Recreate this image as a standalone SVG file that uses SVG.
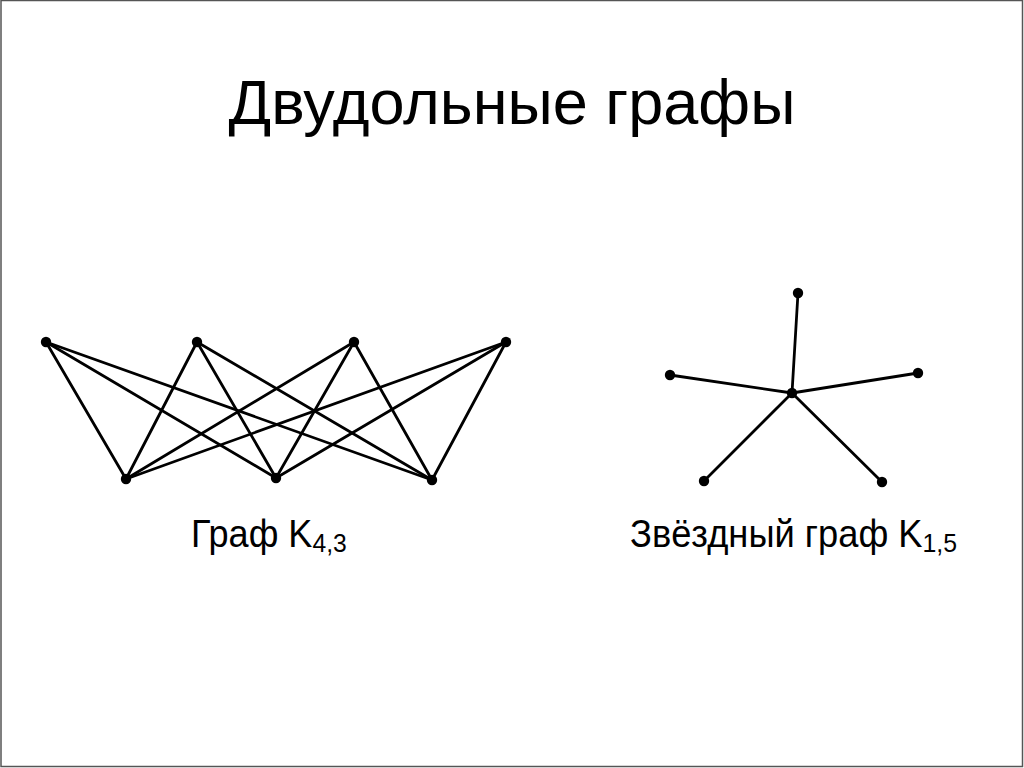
<svg xmlns="http://www.w3.org/2000/svg" width="1024" height="768" viewBox="0 0 1024 768">
<style>
.edge{stroke:#000;stroke-width:2.8;stroke-linecap:round}
.node{fill:#000}
.t{font-family:"Liberation Sans",Arial,sans-serif;fill:#000}
</style>
<rect x="0" y="0" width="1024" height="768" fill="#fff"/>
<rect x="1" y="0.5" width="1021.5" height="766" fill="none" stroke="#555" stroke-width="1.5"/>
<text id="title" class="t" x="512" y="124" font-size="63" text-anchor="middle">Двудольные графы</text>
<g id="connectors">
<line class="edge" x1="46" y1="342" x2="126" y2="479"/>
<line class="edge" x1="46" y1="342" x2="276" y2="478"/>
<line class="edge" x1="46" y1="342" x2="432" y2="480"/>
<line class="edge" x1="197" y1="342" x2="126" y2="479"/>
<line class="edge" x1="197" y1="342" x2="276" y2="478"/>
<line class="edge" x1="197" y1="342" x2="432" y2="480"/>
<line class="edge" x1="354" y1="342" x2="126" y2="479"/>
<line class="edge" x1="354" y1="342" x2="276" y2="478"/>
<line class="edge" x1="354" y1="342" x2="432" y2="480"/>
<line class="edge" x1="506" y1="342" x2="126" y2="479"/>
<line class="edge" x1="506" y1="342" x2="276" y2="478"/>
<line class="edge" x1="506" y1="342" x2="432" y2="480"/>
<line class="edge" x1="792" y1="393" x2="798" y2="293"/>
<line class="edge" x1="792" y1="393" x2="670" y2="375"/>
<line class="edge" x1="792" y1="393" x2="918" y2="373"/>
<line class="edge" x1="792" y1="393" x2="704" y2="481"/>
<line class="edge" x1="792" y1="393" x2="882" y2="482"/>
</g>
<g id="k43-top1"><circle class="node" cx="46" cy="342" r="5.2"/></g>
<g id="k43-top2"><circle class="node" cx="197" cy="342" r="5.2"/></g>
<g id="k43-top3"><circle class="node" cx="354" cy="342" r="5.2"/></g>
<g id="k43-top4"><circle class="node" cx="506" cy="342" r="5.2"/></g>
<g id="k43-bot1"><circle class="node" cx="126" cy="479" r="5.2"/></g>
<g id="k43-bot2"><circle class="node" cx="276" cy="478" r="5.2"/></g>
<g id="k43-bot3"><circle class="node" cx="432" cy="480" r="5.2"/></g>
<g id="star-center"><circle class="node" cx="792" cy="393" r="5.2"/></g>
<g id="star-top"><circle class="node" cx="798" cy="293" r="5.2"/></g>
<g id="star-left"><circle class="node" cx="670" cy="375" r="5.2"/></g>
<g id="star-right"><circle class="node" cx="918" cy="373" r="5.2"/></g>
<g id="star-botleft"><circle class="node" cx="704" cy="481" r="5.2"/></g>
<g id="star-botright"><circle class="node" cx="882" cy="482" r="5.2"/></g>
<g id="label-k43" transform="translate(191,547) scale(0.95,1)">
<text class="t" x="0" y="0" font-size="38">Граф K<tspan font-size="26" dy="5">4,3</tspan></text>
</g>
<g id="label-k15" transform="translate(630,547) scale(0.955,1)">
<text class="t" x="0" y="0" font-size="38">Звёздный граф K<tspan font-size="26" dy="5">1,5</tspan></text>
</g>
</svg>
